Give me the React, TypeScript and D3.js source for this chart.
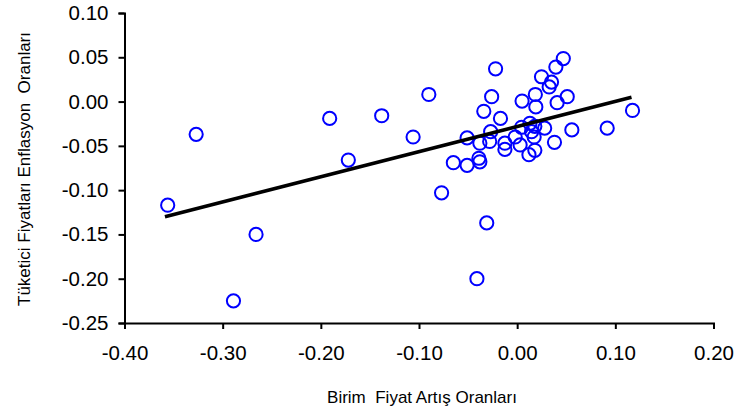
import { select, scaleLinear, axisBottom, axisLeft, line } from "d3";
import React, { useEffect, useRef } from "react";

// Birim fiyat artış oranları (x) ve TÜFE enflasyon oranları (y)
const unitPriceRates = [
  -0.356, -0.327, -0.289, -0.266, -0.191, -0.172, -0.138, -0.106, -0.09, -0.077,
  -0.065, -0.051, -0.051, -0.038, -0.039, -0.038, -0.034, -0.031, -0.041, -0.026,
  -0.022, -0.027, -0.028, -0.017, -0.0125, -0.0125, -0.002, 0.003, 0.005, 0.0045,
  0.013, 0.018, 0.0147, 0.0173, 0.018, 0.012, 0.0185, 0.019, 0.028, 0.038,
  0.0407, 0.051, 0.0557, 0.0248, 0.035, 0.0326, 0.0394, 0.047, 0.0917, 0.1175,
];
const cpiRates = [
  -0.117, -0.037, -0.225, -0.15, -0.019, -0.066, -0.016, -0.04, 0.008, -0.103,
  -0.069, -0.072, -0.041, -0.047, -0.064, -0.068, -0.011, -0.137, -0.2, 0.0055,
  0.037, -0.034, -0.045, -0.019, -0.047, -0.054, -0.04, -0.049, 0.0006, -0.029,
  -0.0245, -0.028, -0.034, -0.04, -0.055, -0.06, 0.008, -0.006, -0.03, -0.046,
  -0.0013, 0.0055, -0.032, 0.028, 0.022, 0.0165, 0.039, 0.0486, -0.03, -0.01,
];

// regresyon doğrusu uç noktaları
const trendX = [-0.3588, 0.1165];
const trendY = [-0.13, 0.0048];

const xTicks = [-0.4, -0.3, -0.2, -0.1, 0, 0.1, 0.2];
const yTicks = [-0.25, -0.2, -0.15, -0.1, -0.05, 0, 0.05, 0.1];

const xTitle = "Birim  Fiyat Artış Oranları";
const yTitle = "Tüketici Fiyatları Enflasyon  Oranları";

const W = 738;
const H = 413;
const FONT = "'Liberation Sans', Arial, sans-serif";

const ScatterChart = () => {
  const chartRef = useRef<SVGSVGElement>(null);

  useEffect(() => {
    if (!chartRef.current) return;
    const svg = select(chartRef.current);
    svg.selectAll("*").remove();

    const x = scaleLinear().domain([-0.4, 0.2]).range([124.5, 713.5]);
    const y = scaleLinear().domain([-0.25, 0.1]).range([323, 13]);
    const fmt = (d: any) => (+d).toFixed(2);

    // eksenler
    const gx = svg
      .append("g")
      .attr("transform", `translate(0,${y(-0.25)})`)
      .call(
        axisBottom(x)
          .tickValues(xTicks)
          .tickFormat(fmt)
          .tickSizeOuter(0)
          .tickSize(6)
          .tickPadding(16)
      );
    const gy = svg
      .append("g")
      .attr("transform", `translate(${x(-0.4)},0)`)
      .call(
        axisLeft(y)
          .tickValues(yTicks)
          .tickFormat(fmt)
          .tickSizeOuter(0)
          .tickSize(6)
          .tickPadding(10)
      );
    [gx, gy].forEach((g) => {
      g.select(".domain").attr("stroke", "#000").attr("stroke-width", 2);
      g.selectAll(".tick line").attr("stroke", "#000").attr("stroke-width", 2);
      g.selectAll(".tick text")
        .attr("fill", "#000")
        .style("font-family", FONT)
        .style("font-size", "20.5px");
    });

    // noktalar
    svg
      .append("g")
      .selectAll("circle")
      .data(unitPriceRates.map((v, i) => [v, cpiRates[i]]))
      .enter()
      .append("circle")
      .attr("cx", (d) => x(d[0]))
      .attr("cy", (d) => y(d[1]))
      .attr("r", 6.6)
      .attr("fill", "none")
      .attr("stroke", "#0000ff")
      .attr("stroke-width", 2);

    // trend çizgisi
    const trendLine = line<number[]>()
      .x((d) => x(d[0]))
      .y((d) => y(d[1]));
    svg
      .append("path")
      .datum(trendX.map((v, i) => [v, trendY[i]]))
      .attr("fill", "none")
      .attr("stroke", "#000")
      .attr("stroke-width", 3.5)
      .attr("d", trendLine);

    // eksen başlıkları
    svg
      .append("text")
      .attr("x", 422)
      .attr("y", 403)
      .attr("text-anchor", "middle")
      .style("font-family", FONT)
      .style("font-size", "17px")
      .style("white-space", "pre")
      .text(xTitle);
    svg
      .append("text")
      .attr("transform", `translate(30,169) rotate(-90)`)
      .attr("text-anchor", "middle")
      .style("font-family", FONT)
      .style("font-size", "17px")
      .style("white-space", "pre")
      .text(yTitle);
  }, []);

  return (
    <svg
      ref={chartRef}
      width={W}
      height={H}
      style={{ position: "absolute", left: 0, top: 0, background: "#fff" }}
    ></svg>
  );
};

export default function App() {
  return <ScatterChart />;
}
